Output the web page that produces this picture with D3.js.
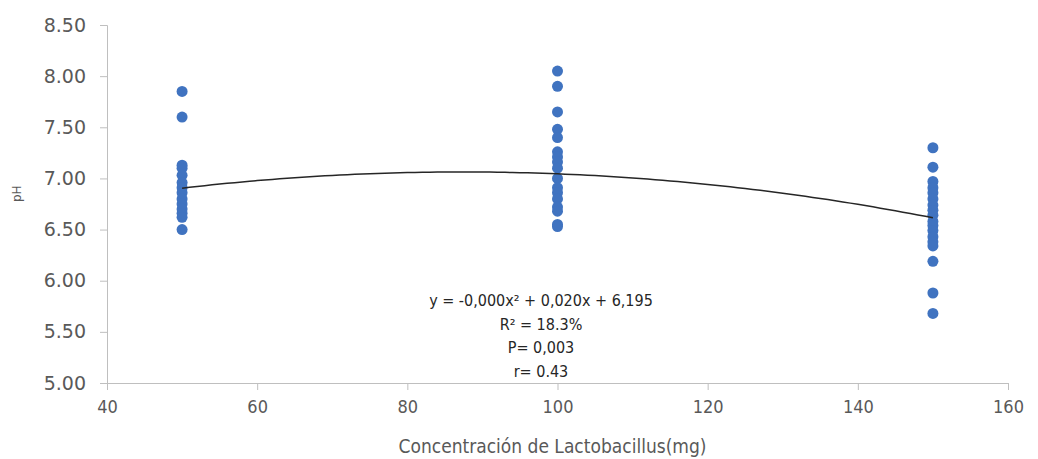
<!DOCTYPE html>
<html>
<head>
<meta charset="utf-8">
<script src="https://cdn.jsdelivr.net/npm/d3@7"></script>
<style>
  body { margin: 0; background: #fff; }
  .narrow { font-family: "Liberation Sans Narrow", "DejaVu Sans Condensed", "Open Sans", sans-serif; }
</style>
</head>
<body>
<div id="chart"></div>
<script>
// concentrations (mg) and the pH readings per group
var conc50 = [7.85, 7.60, 7.13, 7.10, 7.03, 6.96, 6.91, 6.86, 6.80, 6.75, 6.70, 6.66, 6.62, 6.50];
var conc100 = [8.05, 7.90, 7.65, 7.48, 7.40, 7.26, 7.21, 7.16, 7.10, 7.00, 6.91, 6.86, 6.80, 6.72, 6.68, 6.55, 6.53];
var conc150 = [7.30, 7.11, 6.97, 6.91, 6.86, 6.80, 6.74, 6.69, 6.64, 6.58, 6.54, 6.49, 6.43, 6.38, 6.34, 6.19, 5.88, 5.68];
var groups = [50, 100, 150];
// polynomial trend coefficients (a x^2 + b x + c)
var trendCoef = [-0.000114, 0.0199, 6.195];
var xTicks = [40, 60, 80, 100, 120, 140, 160];
var yTicks = [5.0, 5.5, 6.0, 6.5, 7.0, 7.5, 8.0, 8.5];
var eqLines = ["y = -0,000x\u00B2 + 0,020x + 6,195", "R\u00B2 = 18.3%", "P= 0,003", "r= 0.43"];

var W = 1038, H = 459;
var margin = {top: 25, right: 30, bottom: 76, left: 107};
var width = W - margin.left - margin.right,
    height = H - margin.top - margin.bottom;

var svg = d3.select("#chart").append("svg")
  .attr("width", W).attr("height", H)
  .append("g")
  .attr("transform", "translate(" + margin.left + "," + margin.top + ")");

var x = d3.scaleLinear().domain([40, 160]).range([0, width]);
var y = d3.scaleLinear().domain([5, 8.5]).range([height, 0]);

var data = [];
[conc50, conc100, conc150].forEach(function(arr, i) {
  arr.forEach(function(v) { data.push({x: groups[i], y: v}); });
});

// y axis
var yAxis = svg.append("g")
  .call(d3.axisLeft(y).tickValues(yTicks).tickFormat(d3.format(".2f")).tickSize(7).tickPadding(14));
yAxis.select(".domain").attr("stroke", "#bfbfbf");
yAxis.selectAll(".tick line").attr("stroke", "#bfbfbf");
yAxis.selectAll("text")
  .attr("fill", "#595959")
  .style("font-family", "DejaVu Sans, Verdana, sans-serif")
  .style("font-size", "19px");

// x axis
var xAxis = svg.append("g")
  .attr("transform", "translate(0," + height + ")")
  .call(d3.axisBottom(x).tickValues(xTicks).tickSize(7).tickPadding(10));
xAxis.select(".domain").attr("stroke", "#bfbfbf");
xAxis.selectAll(".tick line").attr("stroke", "#bfbfbf");
xAxis.selectAll("text")
  .attr("class", "narrow")
  .attr("fill", "#595959")
  .style("font-size", "18px");

// axis titles
svg.append("text")
  .attr("class", "narrow")
  .attr("x", width / 2 - 5).attr("y", height + 70)
  .attr("text-anchor", "middle")
  .attr("fill", "#595959")
  .style("font-size", "19px")
  .text("Concentraci\u00F3n de Lactobacillus(mg)");

svg.append("text")
  .attr("transform", "translate(-86," + (y(6.85)) + ") rotate(-90)")
  .attr("text-anchor", "middle")
  .attr("fill", "#595959")
  .style("font-family", "DejaVu Sans, sans-serif")
  .style("font-size", "12px")
  .text("pH");

// points
svg.selectAll(".dot")
  .data(data)
  .enter().append("circle")
  .attr("class", "dot")
  .attr("cx", function(d) { return x(d.x); })
  .attr("cy", function(d) { return y(d.y); })
  .attr("r", 5.5)
  .attr("fill", "#4073c0");

// trend line
var trendX = d3.range(50, 150.5, 1);
var line = d3.line()
  .x(function(d) { return x(d); })
  .y(function(d) { return y(trendCoef[0] * d * d + trendCoef[1] * d + trendCoef[2]); });
svg.append("path")
  .datum(trendX)
  .attr("fill", "none")
  .attr("stroke", "#262626")
  .attr("stroke-width", 1.5)
  .attr("d", line);

// equation text
svg.selectAll(".eq")
  .data(eqLines)
  .enter().append("text")
  .attr("class", "narrow")
  .attr("x", x(97.8))
  .attr("y", function(d, i) { return 281 + i * 23.7; })
  .attr("text-anchor", "middle")
  .attr("fill", "#262626")
  .style("font-size", "16px")
  .text(function(d) { return d; });
</script>
</body>
</html>
